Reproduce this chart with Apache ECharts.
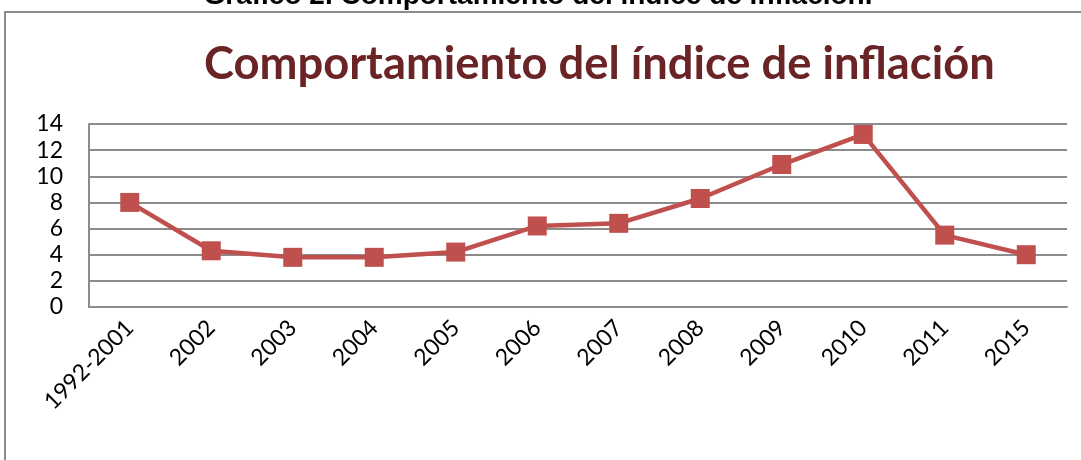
<!DOCTYPE html>
<html><head><meta charset="utf-8">
<script src="https://cdn.jsdelivr.net/npm/echarts@6/dist/echarts.min.js"></script>
<style>html,body{margin:0;padding:0;background:#fff;}#c{width:1081px;height:460px;}</style>
</head><body><div id="c"></div>
<script>
const categories = ['1992-2001','2002','2003','2004','2005','2006','2007','2008','2009','2010','2011','2015'];
const inflation = [8.0, 4.3, 3.8, 3.8, 4.2, 6.2, 6.4, 8.3, 10.9, 13.2, 5.5, 4.0];
const yTicks = {min: 0, max: 14, interval: 2};
const captionText = 'Gráfico 2. Comportamiento del índice de inflación.';
const titleText = 'Comportamiento del índice de inflación';

const chart = echarts.init(document.getElementById('c'), null, {renderer: 'canvas'});
chart.setOption({
  animation: false,
  backgroundColor: '#fff',
  graphic: [
    {type: 'rect', shape: {x: 5, y: 12, width: 1100, height: 500}, style: {fill: 'none', stroke: '#8c8c8c', lineWidth: 2}, z: 0},
    {type: 'text', x: 538, y: -17.5, z: 2, style: {text: captionText, align: 'center', verticalAlign: 'top', font: 'bold 28px "Liberation Sans", Arial, sans-serif', fill: '#000'}}
  ],
  title: {
    text: titleText, left: 199, top: 37,
    textStyle: {color: '#6B2426', fontSize: 45.3, fontWeight: 'bold', fontFamily: 'Lato, "Open Sans", sans-serif'}
  },
  grid: {left: 89, right: 14, top: 124, bottom: 153, containLabel: false},
  xAxis: {
    type: 'category', data: categories, boundaryGap: true,
    axisLine: {show: true, lineStyle: {color: '#8c8c8c', width: 2}},
    axisTick: {show: false},
    axisLabel: {rotate: 45, interval: 0, color: '#000', fontSize: 23, fontFamily: 'Lato, "Open Sans", sans-serif', margin: 17}
  },
  yAxis: {
    type: 'value', min: yTicks.min, max: yTicks.max, interval: yTicks.interval,
    axisLine: {show: true, lineStyle: {color: '#8c8c8c', width: 2}},
    axisTick: {show: false},
    splitLine: {show: true, lineStyle: {color: '#8c8c8c', width: 2}},
    axisLabel: {color: '#000', fontSize: 23, fontFamily: 'Lato, "Open Sans", sans-serif', margin: 26}
  },
  series: [{
    type: 'line', data: inflation,
    symbol: 'rect', symbolSize: 19,
    lineStyle: {color: '#C0504D', width: 4.5},
    itemStyle: {color: '#C0504D'}
  }]
});
</script></body></html>
